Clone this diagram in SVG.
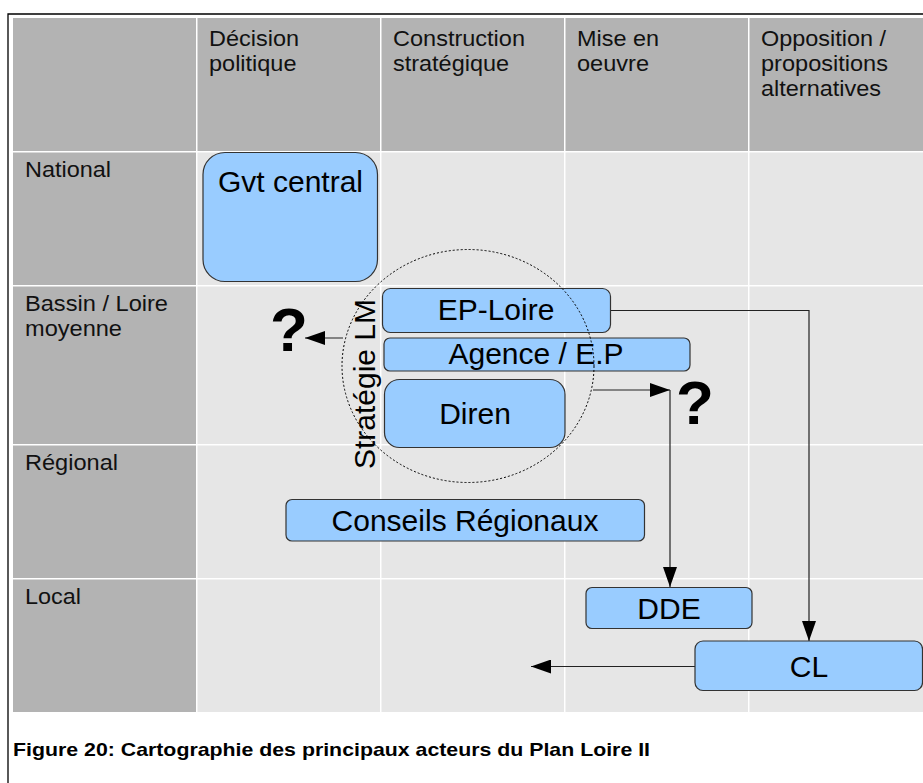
<svg xmlns="http://www.w3.org/2000/svg" width="923" height="783" viewBox="0 0 923 783">
<style>
.hd{fill:#b3b3b3}
.cl{fill:#e6e6e6}
.lbl{font-family:"Liberation Sans",Arial,sans-serif;font-size:22px;fill:#111}
.node rect{fill:#99ccff;stroke:#333;stroke-width:1.2}
.nt{font-family:"Liberation Sans",Arial,sans-serif;font-size:30px;fill:#000;text-anchor:middle}
.q{font-family:"Liberation Sans",Arial,sans-serif;font-size:62px;font-weight:bold;fill:#000;text-anchor:middle}
.cn{fill:none;stroke:#222;stroke-width:1.2}
.cap{font-family:"Liberation Sans",Arial,sans-serif;font-size:19px;font-weight:bold;fill:#000}
</style>
<defs>
<marker id="ah" markerUnits="userSpaceOnUse" markerWidth="22" markerHeight="14" refX="20" refY="7" orient="auto">
<path d="M0,0 L20,7 L0,14 Z" fill="#000"/>
</marker>
</defs>
<rect x="0" y="0" width="923" height="783" fill="#fff"/>
<path d="M8,783 V14 H923" fill="none" stroke="#000" stroke-width="1.3"/>
<g id="table">
<rect x="13" y="18" width="910" height="694" fill="#fff"/>
<rect class="hd" x="13" y="18" width="183" height="133"/>
<rect class="hd" x="197.5" y="18" width="182.5" height="133"/>
<rect class="hd" x="381.5" y="18" width="182.5" height="133"/>
<rect class="hd" x="565.5" y="18" width="182.5" height="133"/>
<rect class="hd" x="749.5" y="18" width="173.5" height="133"/>
<rect class="hd" x="13" y="152.5" width="183" height="132.5"/>
<rect class="hd" x="13" y="286.5" width="183" height="157.5"/>
<rect class="hd" x="13" y="445.5" width="183" height="132.5"/>
<rect class="hd" x="13" y="579.5" width="183" height="132.5"/>
<g class="cl">
<rect x="197.5" y="152.5" width="182.5" height="132.5"/>
<rect x="381.5" y="152.5" width="182.5" height="132.5"/>
<rect x="565.5" y="152.5" width="182.5" height="132.5"/>
<rect x="749.5" y="152.5" width="173.5" height="132.5"/>
<rect x="197.5" y="286.5" width="182.5" height="157.5"/>
<rect x="381.5" y="286.5" width="182.5" height="157.5"/>
<rect x="565.5" y="286.5" width="182.5" height="157.5"/>
<rect x="749.5" y="286.5" width="173.5" height="157.5"/>
<rect x="197.5" y="445.5" width="182.5" height="132.5"/>
<rect x="381.5" y="445.5" width="182.5" height="132.5"/>
<rect x="565.5" y="445.5" width="182.5" height="132.5"/>
<rect x="749.5" y="445.5" width="173.5" height="132.5"/>
<rect x="197.5" y="579.5" width="182.5" height="132.5"/>
<rect x="381.5" y="579.5" width="182.5" height="132.5"/>
<rect x="565.5" y="579.5" width="182.5" height="132.5"/>
<rect x="749.5" y="579.5" width="173.5" height="132.5"/>
</g>
<text class="lbl" x="209" y="46" textLength="90" lengthAdjust="spacingAndGlyphs">Décision</text>
<text class="lbl" x="209" y="71" textLength="87.5" lengthAdjust="spacingAndGlyphs">politique</text>
<text class="lbl" x="393" y="46" textLength="132" lengthAdjust="spacingAndGlyphs">Construction</text>
<text class="lbl" x="393" y="71" textLength="116" lengthAdjust="spacingAndGlyphs">stratégique</text>
<text class="lbl" x="577" y="46" textLength="82" lengthAdjust="spacingAndGlyphs">Mise en</text>
<text class="lbl" x="577" y="71" textLength="72" lengthAdjust="spacingAndGlyphs">oeuvre</text>
<text class="lbl" x="761" y="46" textLength="125" lengthAdjust="spacingAndGlyphs">Opposition /</text>
<text class="lbl" x="761" y="71" textLength="127" lengthAdjust="spacingAndGlyphs">propositions</text>
<text class="lbl" x="761" y="96" textLength="120" lengthAdjust="spacingAndGlyphs">alternatives</text>
<text class="lbl" x="25" y="177" textLength="86" lengthAdjust="spacingAndGlyphs">National</text>
<text class="lbl" x="25" y="311" textLength="143" lengthAdjust="spacingAndGlyphs">Bassin / Loire</text>
<text class="lbl" x="25" y="336" textLength="97" lengthAdjust="spacingAndGlyphs">moyenne</text>
<text class="lbl" x="25" y="470" textLength="93" lengthAdjust="spacingAndGlyphs">Régional</text>
<text class="lbl" x="25" y="604" textLength="56" lengthAdjust="spacingAndGlyphs">Local</text>
</g>
<g id="connectors">
<path class="cn" d="M611,310.5 H809 V641" marker-end="url(#ah)"/>
<path class="cn" d="M593,390 H670" marker-end="url(#ah)"/>
<path class="cn" d="M670,390 V587" marker-end="url(#ah)"/>
<path class="cn" d="M343,338 H305" marker-end="url(#ah)"/>
<path class="cn" d="M695,666.5 H531" marker-end="url(#ah)"/>
</g>
<g id="gvt-central" class="node">
<rect x="203" y="152.5" width="174.5" height="129" rx="22" ry="22"/>
<text class="nt" x="290.5" y="192">Gvt central</text>
</g>
<g id="ep-loire" class="node">
<rect x="382.5" y="288.5" width="228" height="44" rx="8" ry="8"/>
<text class="nt" x="496" y="320">EP-Loire</text>
</g>
<g id="agence-ep" class="node">
<rect x="384" y="338" width="306" height="33" rx="6" ry="6"/>
<text class="nt" x="536" y="364">Agence / E.P</text>
</g>
<g id="diren" class="node">
<rect x="384.5" y="379.5" width="180.5" height="68" rx="15" ry="15"/>
<text class="nt" x="475" y="423.5">Diren</text>
</g>
<g id="conseils-regionaux" class="node">
<rect x="286" y="499.5" width="358.5" height="41.5" rx="6" ry="6"/>
<text class="nt" x="465" y="531">Conseils Régionaux</text>
</g>
<g id="dde" class="node">
<rect x="586" y="587.5" width="166" height="41" rx="6" ry="6"/>
<text class="nt" x="669" y="619">DDE</text>
</g>
<g id="cl" class="node">
<rect x="695" y="641" width="227.5" height="49.5" rx="8" ry="8"/>
<text class="nt" x="809" y="677">CL</text>
</g>
<g id="strategie-lm">
<ellipse cx="468" cy="366" rx="126" ry="116.5" fill="none" stroke="#000" stroke-width="1" stroke-dasharray="2,2"/>
<text class="nt" transform="translate(375,384) rotate(-90)">Stratégie LM</text>
</g>
<g id="question-left"><text class="q" x="289" y="351">?</text></g>
<g id="question-right"><text class="q" x="695" y="424">?</text></g>
<text class="cap" x="13" y="756" textLength="637" lengthAdjust="spacingAndGlyphs">Figure 20: Cartographie des principaux acteurs du Plan Loire II</text>
</svg>
